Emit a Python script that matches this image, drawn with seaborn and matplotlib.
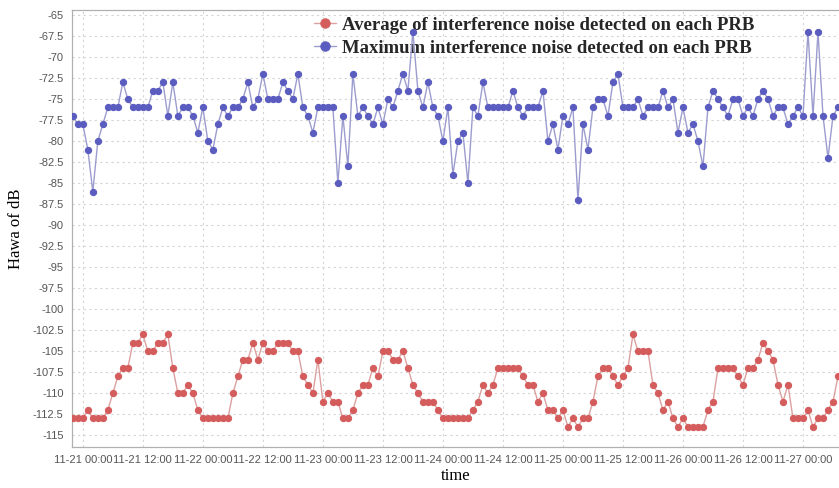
import pandas as pd
import matplotlib
matplotlib.use("Agg")
import matplotlib.pyplot as plt
import matplotlib.dates as mdates
import seaborn as sns

# Hourly readings, first sample at 11-20 22:00
start_time = "2019-11-20 22:00"

avg_noise = [
    -113, -113, -113, -112, -113, -113, -113, -112, -110, -108, -107, -107, -104, -104, -103, -105,
    -105, -104, -104, -103, -107, -110, -110, -109, -110, -112, -113, -113, -113, -113, -113, -113,
    -110, -108, -106, -106, -104, -106, -104, -105, -105, -104, -104, -104, -105, -105, -108, -109,
    -110, -106, -111, -110, -111, -111, -113, -113, -112, -110, -109, -109, -107, -108, -105, -105,
    -106, -106, -105, -107, -109, -110, -111, -111, -111, -112, -113, -113, -113, -113, -113, -113,
    -112, -111, -109, -110, -109, -107, -107, -107, -107, -107, -108, -109, -109, -111, -110, -112,
    -112, -113, -112, -114, -113, -114, -113, -113, -111, -108, -107, -107, -108, -109, -108, -107,
    -103, -105, -105, -105, -109, -110, -112, -111, -113, -114, -113, -114, -114, -114, -114, -112,
    -111, -107, -107, -107, -107, -108, -109, -107, -107, -106, -104, -105, -106, -109, -111, -109,
    -113, -113, -113, -112, -114, -113, -113, -112, -111, -108,
]

max_noise = [
    -77, -78, -78, -81, -86, -80, -78, -76, -76, -76, -73, -75, -76, -76, -76, -76,
    -74, -74, -73, -77, -73, -77, -76, -76, -77, -79, -76, -80, -81, -78, -76, -77,
    -76, -76, -75, -73, -76, -75, -72, -75, -75, -75, -73, -74, -75, -72, -76, -77,
    -79, -76, -76, -76, -76, -85, -77, -83, -72, -77, -76, -77, -78, -76, -78, -75,
    -76, -74, -72, -74, -67, -74, -76, -73, -76, -77, -80, -76, -84, -80, -79, -85,
    -76, -77, -73, -76, -76, -76, -76, -76, -74, -76, -77, -76, -76, -76, -74, -80,
    -78, -81, -77, -78, -76, -87, -78, -81, -76, -75, -75, -77, -73, -72, -76, -76,
    -76, -75, -77, -76, -76, -76, -74, -76, -75, -79, -76, -79, -78, -80, -83, -76,
    -74, -75, -76, -77, -75, -75, -77, -76, -77, -75, -74, -75, -77, -76, -76, -78,
    -77, -76, -77, -67, -77, -67, -77, -82, -77, -76,
]

series_names = [
    "Average of interference noise detected on each PRB",
    "Maximum interference noise detected on each PRB",
]
y_ticks = [-65 - 2.5 * i for i in range(21)]

times = pd.date_range(start_time, periods=len(avg_noise), freq="h")
df = pd.DataFrame({"time": times, "avg": avg_noise, "max": max_noise})

sns.set_style("whitegrid")
plt.rcParams["font.family"] = ["Liberation Sans", "DejaVu Sans"]

fig = plt.figure(figsize=(8.39, 4.88), dpi=100)
ax = fig.add_axes([0.0858, 0.084, 0.9142, 0.8955])

sns.lineplot(data=df, x="time", y="avg", ax=ax, color="#dca0a0", linewidth=1.0,
             marker="o", markersize=4.5, markerfacecolor="#d45c5c",
             markeredgecolor="#d45c5c", label=series_names[0], zorder=3)
sns.lineplot(data=df, x="time", y="max", ax=ax, color="#9c9ccf", linewidth=1.0,
             marker="o", markersize=4.5, markerfacecolor="#5a5cc0",
             markeredgecolor="#5a5cc0", label=series_names[1], zorder=3)

ax.set_ylim(-116.4, -64.4)
ax.set_xlim(pd.Timestamp("2019-11-20 21:50"), pd.Timestamp("2019-11-27 07:12"))
ax.set_yticks(y_ticks)
ax.set_yticklabels([f"{v:g}" for v in y_ticks])
ax.xaxis.set_major_locator(mdates.HourLocator(byhour=[0, 12]))
ax.xaxis.set_major_formatter(mdates.DateFormatter("%m-%d %H:%M"))

ax.grid(True, color="#d4d4d4", linestyle=(0, (2, 3)), linewidth=0.8)
ax.tick_params(axis="both", labelsize=8, colors="#555555", length=3, width=0.8, pad=3)
for side in ["left", "bottom", "top"]:
    ax.spines[side].set_color("#b0b0b0")
    ax.spines[side].set_linewidth(0.9)
ax.spines["right"].set_visible(False)

ax.set_xlabel("time", family="Liberation Serif", fontsize=12, color="black", labelpad=2)
ax.set_ylabel("Hawa of dB", family="Liberation Serif", fontsize=12, color="black", labelpad=6)

# legend sits under the lines, the spikes cross it like in the original
leg = ax.legend(loc="upper left", bbox_to_anchor=(0.308, 0.998), borderaxespad=0,
                frameon=False, borderpad=0.3, handlelength=1.2, handletextpad=0.3,
                labelspacing=0.32, markerscale=1.5,
                prop={"family": "Liberation Serif", "weight": "bold", "size": 13.5})
leg.set_zorder(2)

fig.savefig("out.png", dpi=100)
